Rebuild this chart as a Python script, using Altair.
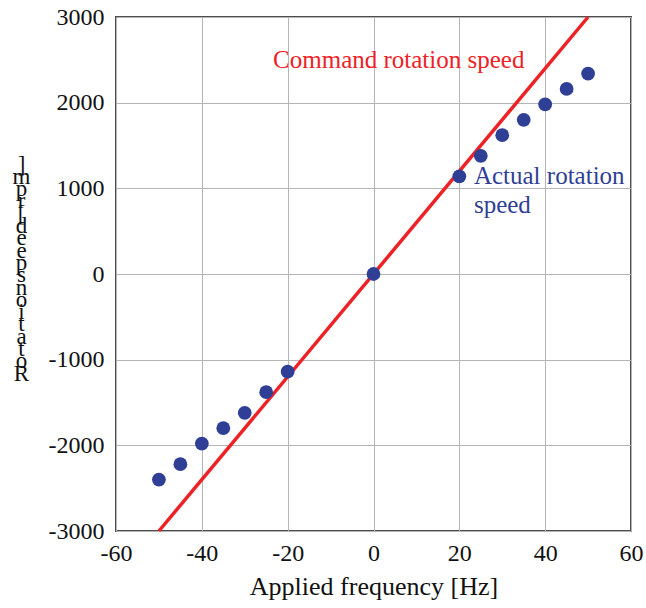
import altair as alt
import pandas as pd

# Data
freq = [-50, -45, -40, -35, -30, -25, -20, 0, 20, 25, 30, 35, 40, 45, 50]
actual_rpm = [-2400, -2220, -1980, -1800, -1620, -1380, -1140, 0, 1140, 1380, 1620, 1800, 1980, 2160, 2340]
cmd_freq = [-50, 50]
cmd_rpm = [-3000, 3000]

ann_text = ["Command rotation speed", "Actual rotation", "speed"]
ann_x = [-23.4, 23.4, 23.4]
ann_y = [2500, 1140, 810]
ann_series = ["cmd", "act", "act"]

y_title = "Rotation speed [rpm]"
x_title = "Applied frequency [Hz]"

RED = "#ec2227"
BLUE = "#2f3f96"
FONT = "Liberation Serif"

pts = pd.DataFrame({"f": freq, "rpm": actual_rpm})
line = pd.DataFrame({"f": cmd_freq, "rpm": cmd_rpm})
ann = pd.DataFrame({"text": ann_text, "f": ann_x, "rpm": ann_y, "s": ann_series})

xs = alt.Scale(domain=[-60, 60], nice=False)
ys = alt.Scale(domain=[-3000, 3000], nice=False)

xax = alt.Axis(values=list(range(-60, 61, 20)), title=x_title, grid=True, ticks=False,
               domain=False, labelPadding=10, titlePadding=8, labelFontSize=24,
               titleFontSize=26, labelFlush=False, labelExpr="'' + datum.value",
               labelFont=FONT, titleFont=FONT, titleFontWeight="normal",
               labelColor="#111", titleColor="#111")
yax = alt.Axis(values=list(range(-3000, 3001, 1000)), title=list(reversed(list(y_title))),
               grid=True, ticks=False, domain=False, labelPadding=12, labelFontSize=24,
               titleFontSize=23, titleAngle=0, titleLineHeight=12.3, titleBaseline="middle",
               titleAlign="center", titleX=-95, titleY=147, labelFlush=False,
               labelExpr="'' + datum.value",
               labelFont=FONT, titleFont=FONT, titleFontWeight="normal",
               labelColor="#111", titleColor="#111")

base_x = alt.X("f:Q", scale=xs, axis=xax)
base_y = alt.Y("rpm:Q", scale=ys, axis=yax)

cmd = alt.Chart(line).mark_line(color=RED, strokeWidth=3.5).encode(x=base_x, y=base_y)
act = alt.Chart(pts).mark_circle(color=BLUE, size=190, opacity=1).encode(
    x=alt.X("f:Q", scale=xs), y=alt.Y("rpm:Q", scale=ys))
txt = alt.Chart(ann).mark_text(align="left", baseline="middle", font=FONT, fontSize=25).encode(
    x=alt.X("f:Q", scale=xs), y=alt.Y("rpm:Q", scale=ys), text="text:N",
    color=alt.Color("s:N", scale=alt.Scale(domain=["cmd", "act"], range=[RED, BLUE]), legend=None))

chart = alt.layer(cmd, act, txt).properties(
    width=515, height=514,
    background="white",
    autosize=alt.AutoSizeParams(type="none"),
    padding={"left": 116, "top": 17, "right": 15, "bottom": 77},
).configure_view(stroke="#4d4d4d", strokeWidth=2).configure_axis(
    gridColor="#b5b5b5", gridWidth=1
)

chart.save("out.html", embed_options={"renderer": "svg", "actions": False})
